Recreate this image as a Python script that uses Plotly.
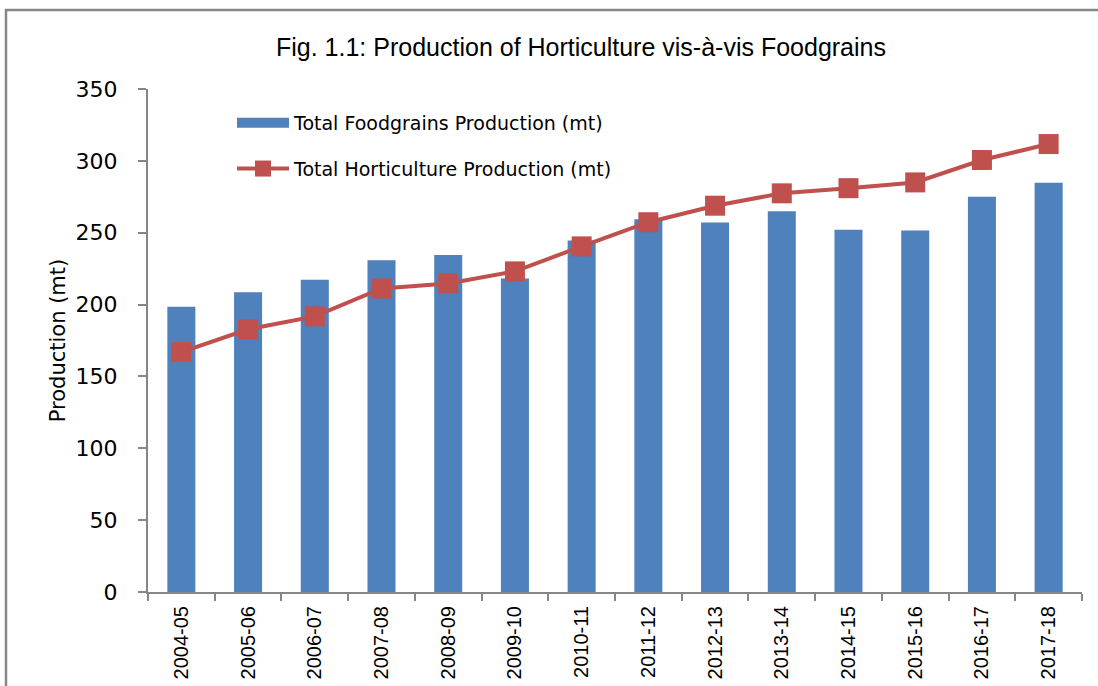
import plotly.graph_objects as go

years = ["2004-05", "2005-06", "2006-07", "2007-08", "2008-09", "2009-10", "2010-11",
         "2011-12", "2012-13", "2013-14", "2014-15", "2015-16", "2016-17", "2017-18"]
foodgrains = [198.4, 208.6, 217.3, 230.8, 234.5, 218.1, 244.5, 259.3, 257.1, 265.0, 252.0, 251.6, 275.1, 284.8]
horticulture = [166.9, 182.8, 191.8, 211.2, 214.7, 223.1, 240.5, 257.3, 268.8, 277.4, 281.0, 285.0, 300.6, 311.7]
y_ticks = [0, 50, 100, 150, 200, 250, 300, 350]

AX = "#868686"
BLUE = "#4F81BD"
RED = "#C0504D"
fig = go.Figure()
fig.add_trace(go.Bar(
    x=years, y=foodgrains, name="Total Foodgrains Production (mt)",
    marker=dict(color=BLUE, line=dict(width=0)), width=0.42,
    showlegend=False))
# legend-only entry giving the wide rectangular key used by the original
fig.add_trace(go.Scatter(
    x=[None], y=[None], name="Total Foodgrains Production (mt)",
    mode="lines", line=dict(color=BLUE, width=10), legendgroup="a"))
fig.add_trace(go.Scatter(
    x=years, y=horticulture, name="Total Horticulture Production (mt)",
    mode="lines+markers", line=dict(color=RED, width=4),
    marker=dict(symbol="square", size=20, color=RED),
    legendgroup="b"))

L, R, T, B = 148, 16, 89, 94
W, H = 1098, 686
pw, ph = W - L - R, H - T - B

def px(x):
    return (x - L) / pw

def py(y):
    return (H - B - y) / ph

fig.update_layout(
    width=W, height=H,
    margin=dict(l=L, r=R, t=T, b=B, autoexpand=False),
    paper_bgcolor="white", plot_bgcolor="white",
    font=dict(family="DejaVu Sans", color="black"),
    title=dict(text="Fig. 1.1: Production of Horticulture vis-à-vis Foodgrains",
               x=581 / W, xanchor="center", y=1 - 47 / H, yanchor="middle",
               font=dict(family="Liberation Sans Narrow, Liberation Sans", size=25, color="black")),
    showlegend=True,
    legend=dict(x=px(232), y=py(104), xanchor="left", yanchor="top",
                bgcolor="rgba(0,0,0,0)", font=dict(size=19, family="DejaVu Sans"),
                tracegroupgap=18, itemwidth=52),
    xaxis=dict(type="category", range=[-0.5, 13.5], showline=True, linecolor=AX, linewidth=2,
               ticks="outside", tickson="boundaries", ticklen=7, tickcolor=AX, tickwidth=1.5,
               tickangle=-90, tickfont=dict(family="Liberation Sans Narrow, Liberation Sans", size=20),
               ticklabelstandoff=4, showgrid=False, zeroline=False, automargin=False),
    yaxis=dict(range=[0, 350], tickvals=y_ticks, showline=True, linecolor=AX, linewidth=2,
               ticks="outside", ticklen=8, tickcolor=AX, tickwidth=1.5,
               tickfont=dict(size=22, family="DejaVu Sans"), ticklabelstandoff=16,
               showgrid=False, zeroline=False, automargin=False,
               title=dict(text="Production (mt)", font=dict(size=21, family="DejaVu Sans"), standoff=4)),
    shapes=[dict(type="path", xref="paper", yref="paper",
                 path=f"M {px(6)} {py(686)} L {px(6)} {py(10)} L {px(1098)} {py(10)}",
                 line=dict(color=AX, width=2.5))],
)

fig.write_html("out.html", config={"displayModeBar": False},
               post_script="document.body.style.margin='0';")
